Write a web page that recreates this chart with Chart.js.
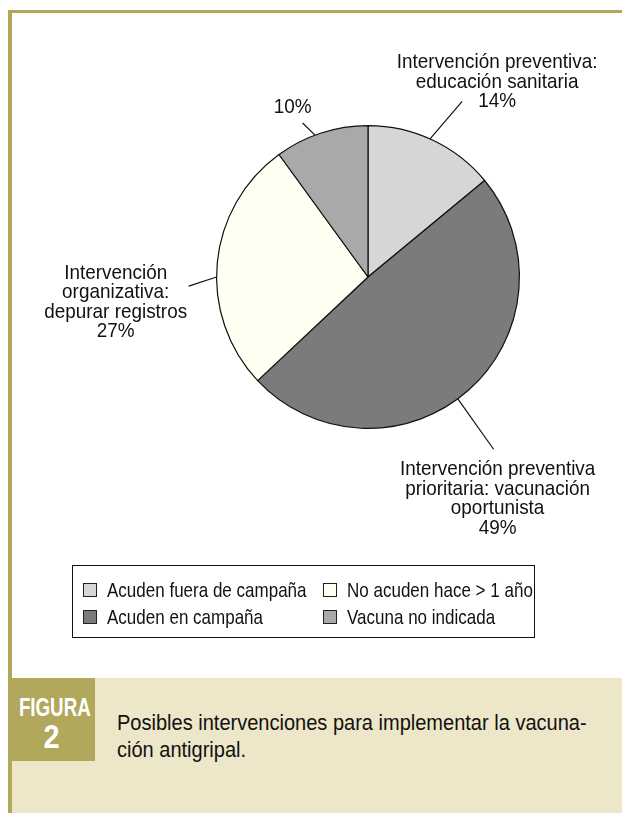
<!DOCTYPE html>
<html>
<head>
<meta charset="utf-8">
<script src="https://cdn.jsdelivr.net/npm/chart.js@4"></script>
<style>
  html, body { margin: 0; padding: 0; background: #fff; }
  body { width: 622px; height: 813px; position: relative; overflow: hidden;
         font-family: "Liberation Sans", Arial, sans-serif; color: #111; }
  #frame { position: absolute; left: 8px; top: 10px; right: 0; bottom: 0;
           border-top: 3px solid #b2a85c; border-left: 4px solid #b2a85c; }
  #chart { position: absolute; left: 0; top: 0; }
  #legend { position: absolute; left: 72px; top: 565px; width: 463px; height: 73px;
            box-sizing: border-box; border: 1px solid #111; }
  .item { position: absolute; font-size: 21px; line-height: 21px; white-space: nowrap; }
  .item span.sw { position: absolute; left: 0; top: 4px; width: 12px; height: 12px; border: 1px solid #222; }
  .item span.tx { position: absolute; left: 24px; top: 0; transform: scaleX(0.81); transform-origin: 0 0; }
  #caption { position: absolute; left: 12px; top: 678px; right: 0; bottom: 0; background: #ede6c8; }
  #fig { position: absolute; left: 8px; top: 678px; width: 87px; height: 83px; background: #b2a85c;
         color: #fff; text-align: center; font-weight: bold; }
  #fig .a { position: absolute; left: 0; right: 0; top: 17px; font-size: 25px; line-height: 25px;
            transform: scaleX(0.75); }
  #fig .b { position: absolute; left: 0; right: 0; top: 41px; font-size: 34px; line-height: 34px;
            transform: scaleX(0.85); }
  #captext { position: absolute; left: 117px; top: 709px; font-size: 22px; line-height: 27px; color: #111;
             white-space: nowrap; transform: scaleX(0.91); transform-origin: 0 0; }
</style>
</head>
<body>
<div id="frame"></div>
<div id="caption"></div>
<div id="fig"><div class="a">FIGURA</div><div class="b">2</div></div>
<div id="captext">Posibles intervenciones para implementar la vacuna-<br>ción antigripal.</div>
<canvas id="chart" width="622" height="678"></canvas>
<div id="legend"></div>
<script>
// slices, clockwise from 12 o'clock
const categories = [
  "Acuden fuera de campaña",
  "Acuden en campaña",
  "No acuden hace > 1 año",
  "Vacuna no indicada",
];
const values = [14, 49, 27, 10];
const interventions = [
  ["Intervención preventiva:", "educación sanitaria"],
  ["Intervención preventiva", "prioritaria: vacunación", "oportunista"],
  ["Intervención", "organizativa:", "depurar registros"],
  [],
];
const colors = ["#d6d6d6", "#7b7b7b", "#fffff2", "#a9a9a9"];

// callout placement: line start angle shift, line end (angle shift, radius factor), text offset
const callouts = [
  { startShift: -1, endShift: 3, endR: 1.316, dx: 35, dy: -1, anchor: "bottom" },
  { startShift: 5, endShift: 5.3, endR: 1.408, dx: 4, dy: 19, anchor: "top" },
  { startShift: -5.4, endShift: -8.3, endR: 1.186, dx: -73, dy: -14, anchor: "top" },
  { startShift: -2.5, endShift: -5, endR: 1.105, dx: -10, dy: -17, anchor: "bottom" },
];

const calloutPlugin = {
  id: "callouts",
  afterDatasetsDraw(chart) {
    const ctx = chart.ctx;
    const meta = chart.getDatasetMeta(0);
    const total = values.reduce((a, b) => a + b, 0);
    ctx.save();
    ctx.strokeStyle = "#111";
    ctx.lineWidth = 1.2;
    ctx.fillStyle = "#111";
    ctx.font = '21px "Liberation Sans", Arial, sans-serif';
    ctx.textAlign = "center";
    ctx.textBaseline = "middle";
    const lineH = 19.5;
    meta.data.forEach((arc, i) => {
      const { x, y, startAngle, endAngle, outerRadius } = arc.getProps(
        ["x", "y", "startAngle", "endAngle", "outerRadius"], true);
      const c = callouts[i];
      const mid = (startAngle + endAngle) / 2;
      const a0 = mid + c.startShift * Math.PI / 180;
      const a1 = mid + c.endShift * Math.PI / 180;
      const sx = x + Math.cos(a0) * outerRadius, sy = y + Math.sin(a0) * outerRadius;
      const ex = x + Math.cos(a1) * outerRadius * c.endR, ey = y + Math.sin(a1) * outerRadius * c.endR;
      ctx.beginPath();
      ctx.moveTo(sx, sy);
      ctx.lineTo(ex, ey);
      ctx.stroke();
      const lines = interventions[i].concat([Math.round(values[i] / total * 100) + "%"]);
      const tx = ex + c.dx;
      let ty = ey + c.dy;
      if (c.anchor === "bottom") ty -= (lines.length - 1) * lineH;
      lines.forEach((t, k) => {
        ctx.save();
        ctx.translate(tx, ty + k * lineH);
        ctx.scale(0.9, 1);
        ctx.fillText(t, 0, 1);
        ctx.restore();
      });
    });
    ctx.restore();
  },
};

new Chart(document.getElementById("chart").getContext("2d"), {
  type: "pie",
  data: {
    labels: categories,
    datasets: [
      {
        data: values,
        backgroundColor: colors,
        borderColor: "#111",
        borderWidth: 1.2,
      },
    ],
  },
  options: {
    responsive: false,
    devicePixelRatio: 1,
    animation: false,
    layout: { padding: { left: 216, right: 102, top: 125, bottom: 249 } },
    plugins: {
      legend: { display: false },
      tooltip: { enabled: false },
    },
  },
  plugins: [calloutPlugin],
});

// legend: two columns, filled column by column
const legend = document.getElementById("legend");
categories.forEach((name, i) => {
  const col = Math.floor(i / 2), row = i % 2;
  const el = document.createElement("div");
  el.className = "item";
  el.style.left = (10 + col * 240) + "px";
  el.style.top = (13 + row * 27) + "px";
  el.innerHTML = '<span class="sw" style="background:' + colors[i] + '"></span><span class="tx">' + name + "</span>";
  legend.appendChild(el);
});
</script>
</body>
</html>
